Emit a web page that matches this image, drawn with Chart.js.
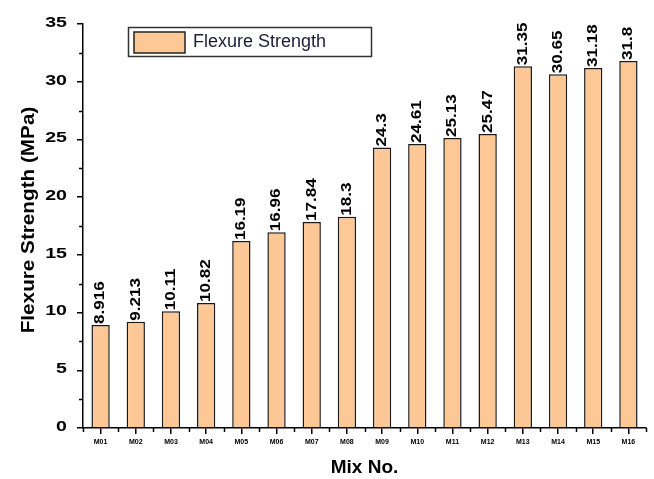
<!DOCTYPE html>
<html>
<head>
<meta charset="utf-8">
<script src="https://cdn.jsdelivr.net/npm/chart.js@4/dist/chart.umd.min.js"></script>
<style>
html,body{margin:0;padding:0;background:#fff;}
#wrap{width:654px;height:479px;position:relative;}
</style>
</head>
<body>
<div id="wrap"><canvas id="c" width="654" height="479"></canvas></div>
<script>
const categories = ['M01','M02','M03','M04','M05','M06','M07','M08','M09','M10','M11','M12','M13','M14','M15','M16'];
const flexureStrength = [8.916, 9.213, 10.11, 10.82, 16.19, 16.96, 17.84, 18.3, 24.3, 24.61, 25.13, 25.47, 31.35, 30.65, 31.18, 31.8];
const valueLabels = ['8.916','9.213','10.11','10.82','16.19','16.96','17.84','18.3','24.3','24.61','25.13','25.47','31.35','30.65','31.18','31.8'];
const yTicks = [0,5,10,15,20,25,30,35];
const yTitle = 'Flexure Strength (MPa)';
const seriesName = 'Flexure Strength';

const barColor = '#FDC896';
const FONT = '"Liberation Sans", Arial, sans-serif';

const extras = {
  id: 'extras',
  afterDraw(chart) {
    const ctx = chart.ctx;
    const xs = chart.scales.x, ys = chart.scales.y;
    const area = chart.chartArea;
    ctx.save();
    ctx.strokeStyle = '#000';
    ctx.lineWidth = 1.5;
    // minor y ticks
    for (let i = 0; i < yTicks.length - 1; i++) {
      const v = (yTicks[i] + yTicks[i+1]) / 2;
      const py = Math.round(ys.getPixelForValue(v)) + 0.5;
      ctx.beginPath(); ctx.moveTo(area.left - 4, py); ctx.lineTo(area.left, py); ctx.stroke();
    }
    // minor x ticks
    for (let i = 0; i <= categories.length; i++) {
      const px = Math.round(xs.getPixelForValue(i - 0.5)) + 0.5;
      ctx.beginPath(); ctx.moveTo(px, area.bottom); ctx.lineTo(px, area.bottom + 4); ctx.stroke();
    }
    // y tick labels (stretched horizontally)
    ctx.fillStyle = '#000';
    ctx.font = 'bold 14px ' + FONT;
    ctx.textAlign = 'right';
    ctx.textBaseline = 'middle';
    yTicks.forEach(v => {
      const py = ys.getPixelForValue(v) - 1;
      ctx.save();
      ctx.translate(67, py);
      ctx.scale(1.4, 1);
      ctx.fillText(String(v), 0, 0);
      ctx.restore();
    });
    // y title
    ctx.save();
    ctx.translate(29, (area.top + area.bottom) / 2 - 6);
    ctx.rotate(-Math.PI / 2);
    ctx.scale(1.15, 1);
    ctx.font = 'bold 18px ' + FONT;
    ctx.textAlign = 'center';
    ctx.textBaseline = 'middle';
    ctx.fillText(yTitle, 0, 0);
    ctx.restore();
    // data labels
    const meta = chart.getDatasetMeta(0);
    ctx.font = 'bold 14px ' + FONT;
    ctx.textAlign = 'left';
    ctx.textBaseline = 'middle';
    meta.data.forEach((bar, i) => {
      ctx.save();
      ctx.translate(bar.x, bar.y - 1);
      ctx.rotate(-Math.PI / 2);
      ctx.scale(1.22, 1);
      ctx.fillText(valueLabels[i], 0, 0);
      ctx.restore();
    });
    // legend
    const lx = 128, ly = 27, lw = 243, lh = 29;
    ctx.fillStyle = '#fff';
    ctx.fillRect(lx, ly, lw, lh);
    ctx.strokeStyle = '#333';
    ctx.lineWidth = 1.5;
    ctx.strokeRect(lx + 0.5, ly + 0.5, lw, lh);
    ctx.fillStyle = barColor;
    ctx.fillRect(134, 32, 51, 21);
    ctx.strokeStyle = '#222';
    ctx.lineWidth = 1.5;
    ctx.strokeRect(134, 32, 51, 21);
    ctx.fillStyle = '#1c1c3a';
    ctx.font = '18px ' + FONT;
    ctx.textAlign = 'left';
    ctx.textBaseline = 'middle';
    ctx.fillText(seriesName, 193, 42);
    ctx.restore();
  }
};

new Chart(document.getElementById('c'), {
  type: 'bar',
  data: {
    labels: categories,
    datasets: [{
      label: seriesName,
      data: flexureStrength,
      backgroundColor: barColor,
      borderColor: '#1a1a1a',
      borderWidth: 1.5,
      barPercentage: 0.52,
      categoryPercentage: 1.0
    }]
  },
  options: {
    responsive: false,
    animation: false,
    devicePixelRatio: 1,
    layout: { padding: { top: 24, right: 8, left: 0, bottom: 0 } },
    plugins: { legend: { display: false }, tooltip: { enabled: false } },
    scales: {
      x: {
        offset: true,
        grid: { display: true, drawOnChartArea: false, tickLength: 6, color: '#000', lineWidth: 1.5, offset: false },
        border: { display: true, color: '#000', width: 1.5 },
        ticks: { color: '#000', font: { size: 7, weight: 'bold', family: FONT }, padding: 4, maxRotation: 0, autoSkip: false },
        title: { display: true, text: 'Mix No.', color: '#000', font: { size: 19, weight: 'bold', family: FONT }, padding: { top: 0, bottom: 0 } },
        afterFit(s) { s.height = 51; }
      },
      y: {
        min: 0, max: 35,
        afterBuildTicks(s) { s.ticks = yTicks.map(v => ({ value: v })); },
        grid: { display: true, drawOnChartArea: false, drawTicks: true, tickLength: 6, color: '#000', lineWidth: 1.5 },
        border: { display: true, color: '#000', width: 1.5 },
        ticks: { display: false },
        title: { display: false },
        afterFit(s) { s.width = 83; }
      }
    }
  },
  plugins: [extras]
});
</script>
</body>
</html>
